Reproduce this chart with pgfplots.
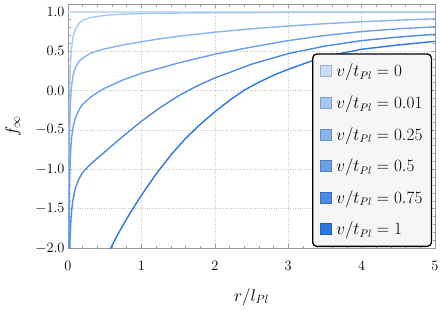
\documentclass[border=0pt]{standalone}
\usepackage{pgfplots}
\pgfplotsset{compat=1.18}
\definecolor{c0}{HTML}{C8DCF6}
\definecolor{c1}{HTML}{A8C7F2}
\definecolor{c2}{HTML}{88B3EE}
\definecolor{c3}{HTML}{6A9FEA}
\definecolor{c4}{HTML}{4B8BE6}
\definecolor{c5}{HTML}{2C77E2}
\begin{document}
\begin{tikzpicture}
\begin{axis}[name=ax, scale only axis, width=367bp, height=244bp,
  xmin=0, xmax=5, ymin=-2, ymax=1.1,
  xtick={0,1,2,3,4,5}, ytick={-2,-1.5,-1,-0.5,0,0.5,1},
  minor x tick num=4, minor y tick num=4,
  tick align=inside, xtick pos=both, ytick pos=both,
  major tick length=4bp, minor tick length=2.5bp,
  tick style={gray!75, line width=0.5bp},
  axis line style={gray!80, line width=0.6bp},
  grid=major, major grid style={dotted, gray!45, line width=0.6bp},
  tick label style={font=\fontsize{13.5}{16}\selectfont},
  xticklabel style={yshift=-10bp},
  yticklabel style={/pgf/number format/.cd, fixed, fixed zerofill, precision=1},
  xlabel={$r/l_{Pl}$}, ylabel={$f_\infty$},
  every axis x label/.style={at={(rel axis cs:0.5,0)}, anchor=center, yshift=-49bp, font=\fontsize{18}{20}\selectfont},
  every axis y label/.style={at={(rel axis cs:0,0.5)}, anchor=center, xshift=-55bp, rotate=90, font=\fontsize{18}{20}\selectfont},
  legend cell align=left,
  legend style={at={(rel axis cs:0.992,0.004)}, anchor=south east, draw=black, line width=1.3bp,
    rounded corners=4bp, fill=gray!7, font=\fontsize{16.3}{19}\selectfont,
    row sep=13.2bp, inner xsep=7bp, inner ysep=8bp,
    /tikz/every odd column/.append style={column sep=3bp}},
  every axis plot/.append style={line width=1.4bp},
]
\addplot[c0, forget plot] coordinates {(0,1) (5,1)};
\addplot[c1, forget plot] coordinates {(0.0072,-2.06) (0.008,-1.75) (0.009,-1.44) (0.01,-1.2) (0.012,-0.83) (0.015,-0.47) (0.02,-0.1) (0.025,0.12) (0.03,0.267) (0.04,0.45) (0.05,0.56) (0.07,0.686) (0.1,0.78) (0.15,0.853) (0.2,0.89) (0.3,0.927) (0.5,0.956) (0.75,0.971) (1,0.978) (1.5,0.985) (2,0.989) (3,0.993) (4,0.9945) (5,0.9956)};
\addplot[c2, forget plot] coordinates {(0.0087,-2.03) (0.01,-1.70) (0.012,-1.33) (0.015,-0.96) (0.02,-0.60) (0.025,-0.38) (0.03,-0.23) (0.04,-0.04) (0.05,0.07) (0.07,0.20) (0.1,0.29) (0.15,0.37) (0.2,0.415) (0.3,0.47) (0.4,0.505) (0.5,0.53) (0.75,0.58) (1,0.62) (1.25,0.658) (1.5,0.69) (2,0.742) (2.5,0.785) (3,0.82) (3.5,0.85) (4,0.875) (4.5,0.895) (5,0.912)};
\addplot[c3, forget plot] coordinates {(0.0122,-2.03) (0.015,-1.66) (0.02,-1.28) (0.025,-1.05) (0.03,-0.90) (0.04,-0.71) (0.05,-0.59) (0.07,-0.46) (0.1,-0.35) (0.15,-0.245) (0.2,-0.175) (0.3,-0.09) (0.4,-0.025) (0.5,0.03) (0.75,0.135) (1,0.22) (1.25,0.285) (1.5,0.35) (2,0.462) (2.5,0.553) (3,0.635) (3.5,0.70) (4,0.75) (4.5,0.785) (5,0.81)};
\addplot[c4, forget plot] coordinates {(0.024,-2.03) (0.0275,-1.90) (0.03,-1.83) (0.04,-1.64) (0.05,-1.52) (0.065,-1.40) (0.1,-1.24) (0.15,-1.12) (0.2,-1.04) (0.3,-0.94) (0.4,-0.86) (0.5,-0.78) (0.6,-0.70) (0.75,-0.58) (1,-0.39) (1.25,-0.22) (1.5,-0.07) (1.75,0.055) (2,0.16) (2.5,0.335) (3,0.47) (3.5,0.565) (4,0.635) (4.5,0.68) (5,0.715)};
\addplot[c5, forget plot] coordinates {(0.57,-2.02) (0.7,-1.79) (0.85,-1.55) (1,-1.33) (1.2,-1.06) (1.4,-0.82) (1.6,-0.61) (1.8,-0.43) (2,-0.27) (2.2,-0.125) (2.4,0.005) (2.6,0.105) (2.8,0.195) (3,0.27) (3.3,0.37) (3.6,0.45) (4,0.525) (4.5,0.58) (5,0.625)};
\addlegendimage{legend image code/.code={\draw[sharp corners, fill=c0, draw=c0!80!black, line width=0.6bp] (0bp,-5.5bp) rectangle (11bp,5.5bp);}}
\addlegendentry{$v/t_{Pl}=0$}
\addlegendimage{legend image code/.code={\draw[sharp corners, fill=c1, draw=c1!80!black, line width=0.6bp] (0bp,-5.5bp) rectangle (11bp,5.5bp);}}
\addlegendentry{$v/t_{Pl}=0.01$}
\addlegendimage{legend image code/.code={\draw[sharp corners, fill=c2, draw=c2!80!black, line width=0.6bp] (0bp,-5.5bp) rectangle (11bp,5.5bp);}}
\addlegendentry{$v/t_{Pl}=0.25$}
\addlegendimage{legend image code/.code={\draw[sharp corners, fill=c3, draw=c3!80!black, line width=0.6bp] (0bp,-5.5bp) rectangle (11bp,5.5bp);}}
\addlegendentry{$v/t_{Pl}=0.5$}
\addlegendimage{legend image code/.code={\draw[sharp corners, fill=c4, draw=c4!80!black, line width=0.6bp] (0bp,-5.5bp) rectangle (11bp,5.5bp);}}
\addlegendentry{$v/t_{Pl}=0.75$}
\addlegendimage{legend image code/.code={\draw[sharp corners, fill=c5, draw=c5!80!black, line width=0.6bp] (0bp,-5.5bp) rectangle (11bp,5.5bp);}}
\addlegendentry{$v/t_{Pl}=1$}
\end{axis}
\pgfresetboundingbox
\path ([shift={(-68bp,-62bp)}]ax.south west) rectangle ([shift={(5bp,4bp)}]ax.north east);
\end{tikzpicture}
\end{document}
